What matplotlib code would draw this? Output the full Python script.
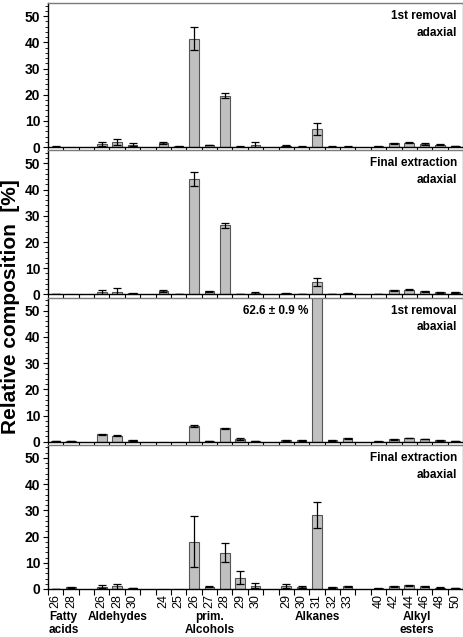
import numpy as np
import matplotlib
matplotlib.use("Agg")
import matplotlib.pyplot as plt
from matplotlib.ticker import MultipleLocator, FixedLocator

plt.rcParams['font.family'] = ['Liberation Sans', 'DejaVu Sans']

groups = ["Fatty\nacids", "Aldehydes", "prim.\nAlcohols", "Alkanes", "Alkyl\nesters"]
chain_lengths = [
    ["26", "28"],
    ["26", "28", "30"],
    ["24", "25", "26", "27", "28", "29", "30"],
    ["29", "30", "31", "32", "33"],
    ["40", "42", "44", "46", "48", "50"],
]

panel_titles = ["1st removal\nadaxial", "Final extraction\nadaxial",
                "1st removal\nabaxial", "Final extraction\nabaxial"]

vals_1 = [0.2, 0.0, 1.3, 2.0, 0.9, 1.5, 0.3, 41.4, 0.8, 19.7, 0.2, 1.0,
          0.5, 0.2, 6.8, 0.2, 0.2, 0.3, 1.5, 1.7, 1.2, 0.9, 0.5]
err_1 = [0.1, 0.0, 0.7, 1.1, 0.6, 0.3, 0.1, 4.4, 0.1, 0.9, 0.1, 1.0,
         0.2, 0.1, 2.3, 0.1, 0.1, 0.1, 0.2, 0.2, 0.2, 0.2, 0.1]
vals_2 = [0.2, 0.0, 0.9, 1.1, 0.4, 1.3, 0.2, 43.9, 1.2, 26.4, 0.2, 0.5,
          0.4, 0.2, 4.8, 0.2, 0.5, 0.2, 1.6, 1.8, 1.2, 0.8, 0.8]
err_2 = [0.1, 0.0, 0.7, 1.2, 0.2, 0.3, 0.1, 2.7, 0.1, 1.0, 0.1, 0.3,
         0.2, 0.1, 1.6, 0.1, 0.2, 0.1, 0.2, 0.2, 0.1, 0.2, 0.1]
vals_3 = [0.2, 0.2, 2.8, 2.2, 0.5, 0.0, 0.0, 6.1, 0.2, 5.1, 1.0, 0.3,
          0.5, 0.5, 62.6, 0.5, 1.4, 0.1, 0.9, 1.5, 1.0, 0.5, 0.2]
err_3 = [0.05, 0.05, 0.2, 0.2, 0.1, 0.0, 0.0, 0.3, 0.1, 0.3, 0.3, 0.1,
         0.1, 0.1, 0.9, 0.1, 0.2, 0.05, 0.1, 0.1, 0.1, 0.1, 0.05]
vals_4 = [0.1, 0.6, 0.9, 1.0, 0.4, 0.0, 0.0, 18.1, 0.8, 13.9, 4.3, 1.3,
          1.1, 0.8, 28.2, 0.6, 1.0, 0.2, 1.0, 1.5, 1.0, 0.5, 0.4]
err_4 = [0.05, 0.1, 0.7, 1.0, 0.1, 0.0, 0.0, 9.7, 0.2, 3.7, 2.5, 1.0,
         0.9, 0.4, 5.1, 0.1, 0.2, 0.05, 0.2, 0.2, 0.2, 0.1, 0.1]

all_vals = [vals_1, vals_2, vals_3, vals_4]
all_errs = [err_1, err_2, err_3, err_4]

# positions: one slot per compound, one empty slot between groups
positions = []
labels = []
group_centers = []
pos = 0
for gi, cl in enumerate(chain_lengths):
    start = pos
    for c in cl:
        positions.append(pos)
        labels.append(c)
        pos += 1
    group_centers.append((start + pos - 1) / 2)
    pos += 1
last = positions[-1]
positions = np.array(positions)

fig = plt.figure(figsize=(4.64, 6.37), dpi=100)
top = 1 - 3 / 637
bottom = 1 - 589 / 637
left = 48 / 464
right = 463 / 464
gs = fig.add_gridspec(4, 1, left=left, right=right, top=top, bottom=bottom, hspace=0.022)

frame_col = "#7a7a7a"
for i in range(4):
    ax = fig.add_subplot(gs[i])
    v = np.array(all_vals[i])
    e = np.array(all_errs[i])
    ax.bar(positions, v, width=0.62, color="#c0c0c0", edgecolor="#555555",
           linewidth=0.8, zorder=2)
    mask = e > 0
    ax.errorbar(positions[mask], v[mask], yerr=e[mask], fmt="none",
                ecolor="black", elinewidth=0.9, capsize=2.6, capthick=0.9, zorder=3)
    ax.set_xlim(-0.5, last + 0.5)
    ax.set_ylim(0, 55)
    ax.yaxis.set_major_locator(MultipleLocator(10))
    ax.yaxis.set_minor_locator(MultipleLocator(2))
    ax.tick_params(axis="y", which="major", direction="out", length=3.5,
                   width=0.8, labelsize=10, pad=2)
    ax.tick_params(axis="y", which="minor", direction="out", length=2, width=0.6)
    for lab in ax.get_yticklabels():
        lab.set_fontweight("bold")
    ax.xaxis.set_major_locator(FixedLocator(positions))
    ax.xaxis.set_minor_locator(FixedLocator(np.arange(-0.5, last + 1.0, 1.0)))
    ax.tick_params(axis="x", which="major", length=0)
    ax.tick_params(axis="x", which="minor", direction="out", length=4, width=0.8)
    if i < 3:
        ax.set_xticklabels([])
    else:
        ax.set_xticklabels(labels, rotation=90, fontsize=9)
        ax.tick_params(axis="x", which="major", pad=3.5)
    for side in ["top", "right"]:
        ax.spines[side].set_color(frame_col)
        ax.spines[side].set_linewidth(1.0)
    ax.spines["left"].set_color("black")
    ax.spines["bottom"].set_color("black")
    ax.spines["left"].set_linewidth(1.0)
    ax.spines["bottom"].set_linewidth(1.0)
    ax.text(0.985, 0.95, panel_titles[i], transform=ax.transAxes, ha="right",
            va="top", fontsize=8.5, fontweight="bold", linespacing=1.5)
    if i == 2:
        big = positions[int(np.argmax(v))]
        ax.text(big - 0.55, 49.7, "62.6 \u00b1 0.9 %", ha="right", va="center",
                fontsize=8.5, fontweight="bold")
    if i == 3:
        for gc, g in zip(group_centers, groups):
            ax.text(gc, -0.155, g, transform=ax.get_xaxis_transform(),
                    ha="center", va="top", fontsize=8.5, fontweight="bold",
                    linespacing=1.05)

fig.text(0.022, 1 - 307 / 637, "Relative composition  [%]", rotation=90,
         ha="center", va="center", fontsize=15, fontweight="bold")

fig.savefig("out.png", dpi=100)
